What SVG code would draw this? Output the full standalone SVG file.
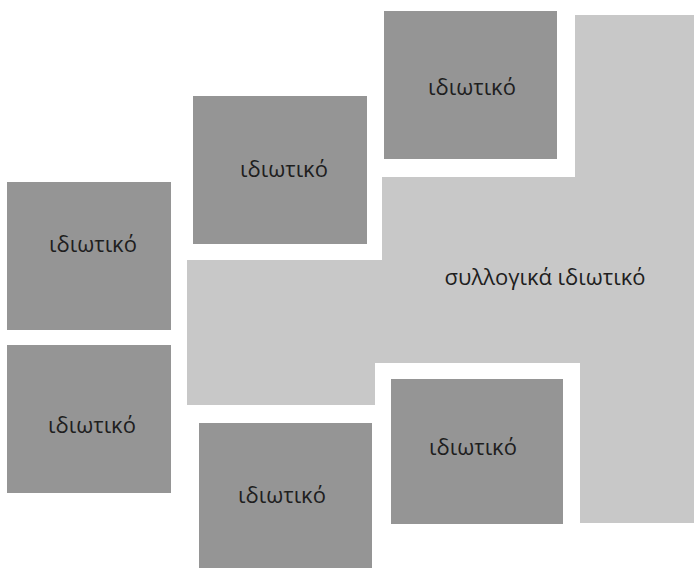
<svg xmlns="http://www.w3.org/2000/svg" width="694" height="568" viewBox="0 0 694 568">
<style>
.dark{fill:#959595}
.light{fill:#c8c8c8}
text{font-family:"Open Sans","Noto Sans",sans-serif;font-size:22px;fill:#1e1e1e;text-anchor:middle}
</style>
<rect width="694" height="568" fill="#ffffff"/>
<g id="collective">
<polygon class="light" points="187,260 382,260 382,177 575,177 575,15 694,15 694,523 580,523 580,363 375,363 375,405 187,405"/>
<text x="545" y="285">συλλογικά ιδιωτικό</text>
</g>
<g id="node1"><rect class="dark" x="384" y="11" width="173" height="148"/><text x="472" y="95">ιδιωτικό</text></g>
<g id="node2"><rect class="dark" x="193" y="96" width="174" height="148"/><text x="284" y="177">ιδιωτικό</text></g>
<g id="node3"><rect class="dark" x="7" y="182" width="164" height="148"/><text x="93" y="252">ιδιωτικό</text></g>
<g id="node4"><rect class="dark" x="7" y="345" width="164" height="148"/><text x="92" y="433">ιδιωτικό</text></g>
<g id="node5"><rect class="dark" x="199" y="423" width="173" height="145"/><text x="282" y="503">ιδιωτικό</text></g>
<g id="node6"><rect class="dark" x="391" y="379" width="172" height="145"/><text x="473" y="455">ιδιωτικό</text></g>
<g id="connectors"/>
</svg>
